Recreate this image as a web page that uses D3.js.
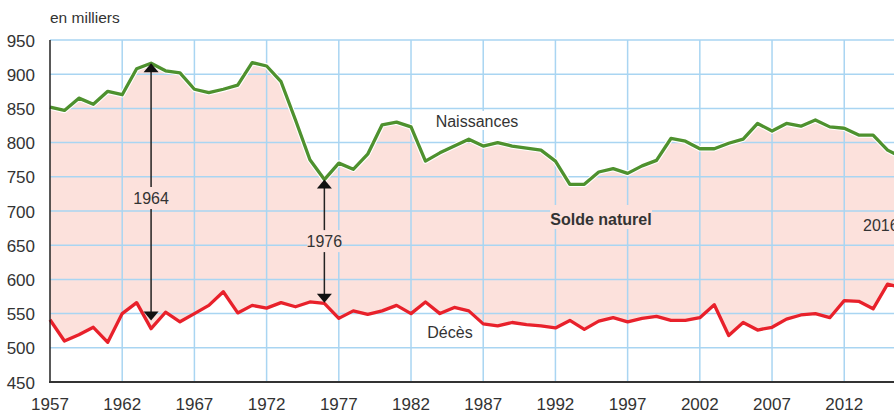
<!DOCTYPE html>
<html><head><meta charset="utf-8">
<script src="https://cdn.jsdelivr.net/npm/d3@7"></script>
<style>
html,body{margin:0;padding:0;background:#fff;}
svg{display:block;}
text{font-family:"Liberation Sans Narrow","Arial Narrow",sans-serif;fill:#333;}
</style></head>
<body>
<svg id="c" width="894" height="414"></svg>
<script>
const years = d3.range(1957, 2017);
const births = [852,847,865,856,875,870,908,916,905,902,878,873,878,884,917,912,889,833,775,746,
  770,761,783,826,830,823,773,785,795,805,795,800,795,792,789,773,739,739,757,762,
  755,766,774,806,802,791,791,799,805,828,817,828,824,833,823,821,811,811,789,778];
const deaths = [541,510,519,530,508,550,566,528,552,538,550,562,582,551,562,558,566,560,567,565,
  543,554,549,554,562,550,567,550,559,554,535,532,537,534,532,529,540,527,539,544,
  538,543,546,540,540,544,563,518,537,526,530,542,548,550,544,569,568,557,593,588];
const xTicks = [1957,1962,1967,1972,1977,1982,1987,1992,1997,2002,2007,2012];
const yTicks = [450,500,550,600,650,700,750,800,850,900,950];
const arrows = [{year:1964, top:916, bottom:540, label:"1964", labelAt:719},
                {year:1976, top:746, bottom:566, label:"1976", labelAt:656}];

const svg = d3.select("#c");
const W = 894;
const x = d3.scaleLinear().domain([1957, 2016]).range([50, 902]);
const y = d3.scaleLinear().domain([450, 950]).range([382, 40]);
const data = years.map((yr,i)=>({yr, b:births[i], d:deaths[i]}));

// fill
svg.append("path").datum(data)
  .attr("d", d3.area().x(d=>x(d.yr)).y0(d=>y(d.d)).y1(d=>y(d.b)))
  .attr("fill", "#fce1dc");

// grid
const grid = svg.append("g").attr("stroke", "#a9d5f2").attr("stroke-width", 1.5);
yTicks.filter(v=>v>450).forEach(v=>{
  grid.append("line").attr("x1", 50).attr("x2", W).attr("y1", y(v)).attr("y2", y(v));
});
xTicks.filter(v=>v>1957).forEach(v=>{
  grid.append("line").attr("x1", x(v)).attr("x2", x(v)).attr("y1", y(950)).attr("y2", y(450));
});

// lines
svg.append("path").datum(data)
  .attr("d", d3.line().x(d=>x(d.yr)).y(d=>y(d.b)))
  .attr("fill","none").attr("stroke","#fff").attr("stroke-width",5.5).attr("stroke-linejoin","round");
svg.append("path").datum(data)
  .attr("d", d3.line().x(d=>x(d.yr)).y(d=>y(d.b)))
  .attr("fill","none").attr("stroke","#4e912e").attr("stroke-width",3.3).attr("stroke-linejoin","round");
svg.append("path").datum(data)
  .attr("d", d3.line().x(d=>x(d.yr)).y(d=>y(d.d)))
  .attr("fill","none").attr("stroke","#e8212b").attr("stroke-width",3.3).attr("stroke-linejoin","round");

// axes
svg.append("line").attr("x1",50).attr("x2",50).attr("y1",y(950)).attr("y2",y(450))
  .attr("stroke","#222").attr("stroke-width",1.5);
svg.append("line").attr("x1",49).attr("x2",W).attr("y1",y(450)).attr("y2",y(450))
  .attr("stroke","#333").attr("stroke-width",2);

svg.append("g").selectAll("text").data(yTicks).join("text")
  .attr("x", 35).attr("y", d=>y(d)+6.5).attr("text-anchor","end")
  .attr("font-size", 17).text(d=>d);
svg.append("g").selectAll("text").data(xTicks).join("text")
  .attr("x", d=>x(d)).attr("y", 410).attr("text-anchor","middle")
  .attr("font-size", 17).text(d=>d);

svg.append("text").attr("x", 50).attr("y", 23).attr("font-size", 15.5).text("en milliers");

// arrows
arrows.forEach(a=>{
  const ax = x(a.year);
  svg.append("line").attr("x1",ax).attr("x2",ax).attr("y1",y(a.top)+6).attr("y2",y(a.bottom)-6)
    .attr("stroke","#222").attr("stroke-width",1.5);
  const t = y(a.top), b = y(a.bottom);
  svg.append("path").attr("d",`M${ax},${t}L${ax-7.5},${t+9}L${ax+7.5},${t+9}Z`).attr("fill","#111");
  svg.append("path").attr("d",`M${ax},${b}L${ax-7.5},${b-9}L${ax+7.5},${b-9}Z`).attr("fill","#111");
  const ly = y(a.labelAt);
  svg.append("rect").attr("x",ax-17).attr("y",ly-11).attr("width",34).attr("height",22).attr("fill","#fce1dc");
  svg.append("text").attr("x",ax).attr("y",ly+6).attr("text-anchor","middle").attr("font-size",16).text(a.label);
});

// labels
svg.append("rect").attr("x",437).attr("y",111).attr("width",80).attr("height",19).attr("fill","#fff");
svg.append("text").attr("x",477).attr("y",127).attr("text-anchor","middle").attr("font-size",16).text("Naissances");
svg.append("text").attr("x",450).attr("y",338).attr("text-anchor","middle").attr("font-size",16).text("Décès");
svg.append("rect").attr("x",550).attr("y",205).attr("width",102).attr("height",24).attr("fill","#fce1dc");
svg.append("text").attr("x",601).attr("y",225).attr("text-anchor","middle").attr("font-size",16)
  .attr("font-weight","bold").text("Solde naturel");
svg.append("text").attr("x",863).attr("y",231).attr("font-size",16).text("2016");
</script>
</body></html>
